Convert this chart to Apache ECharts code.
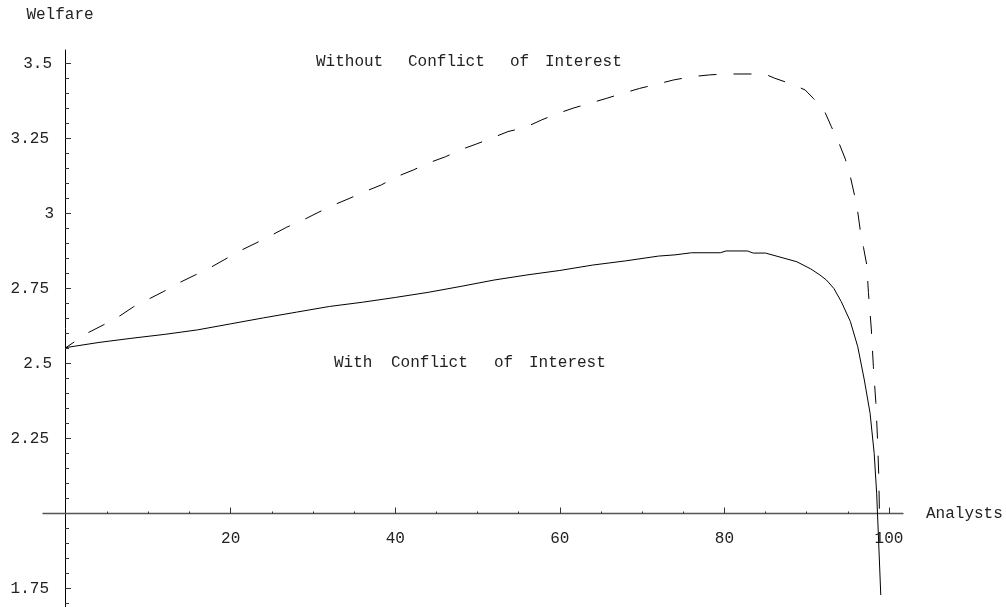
<!DOCTYPE html>
<html>
<head>
<meta charset="utf-8">
<title>Welfare vs Analysts</title>
<script src="https://cdn.jsdelivr.net/npm/echarts@6/dist/echarts.min.js"></script>
<style>
  html, body { margin: 0; padding: 0; background: #fff; }
  #chart { width: 1006px; height: 607px; }
</style>
</head>
<body>
<div id="chart"></div>
<script>
// With Conflict of Interest (solid line)
const withX = [0, 4, 8, 12, 16, 20, 24, 28, 32, 36, 40, 44, 48, 52, 56, 60, 64, 68, 72, 74, 76, 79.5, 80.2, 82.8, 83.5, 85, 88.8, 90.5, 91.6, 92.4, 93.3, 94.2, 95.3, 96.2, 97, 97.7, 98.2, 98.5, 98.7, 99.0];
const withY = [2.553, 2.57, 2.584, 2.597, 2.612, 2.632, 2.652, 2.671, 2.69, 2.704, 2.72, 2.737, 2.757, 2.778, 2.795, 2.81, 2.828, 2.842, 2.858, 2.862, 2.869, 2.869, 2.875, 2.875, 2.868, 2.868, 2.839, 2.815, 2.795, 2.778, 2.75, 2.706, 2.64, 2.556, 2.445, 2.334, 2.2, 2.067, 1.934, 1.728];

// Without Conflict of Interest (dashed line)
const withoutX = [0, 2.5, 4.5, 6.4, 8.2, 10, 11.8, 13.6, 15.7, 17.5, 19.3, 21.1, 23.2, 25, 26.8, 28.8, 30.6, 32.5, 34.5, 36.3, 38.3, 40.2, 42.2, 44.1, 46.1, 47.9, 49.9, 51.7, 53.7, 55.8, 57.8, 59.6, 61.6, 63.6, 65.7, 67.7, 69.7, 71.8, 73.8, 76, 78.2, 80, 84.9, 86.1, 88.2, 89.8, 90.8, 92.1, 93, 93.9, 94.7, 95.3, 95.8, 96.2, 96.5, 96.9, 97.3, 97.5, 97.85, 98.1, 98.4, 98.6, 98.75, 98.84, 98.86];
const withoutY = [2.553, 2.6, 2.628, 2.656, 2.689, 2.714, 2.739, 2.767, 2.795, 2.819, 2.847, 2.875, 2.903, 2.928, 2.954, 2.978, 3.003, 3.028, 3.051, 3.073, 3.095, 3.123, 3.145, 3.169, 3.189, 3.212, 3.232, 3.251, 3.273, 3.287, 3.312, 3.332, 3.351, 3.367, 3.384, 3.401, 3.417, 3.431, 3.445, 3.456, 3.462, 3.465, 3.465, 3.451, 3.431, 3.412, 3.384, 3.345, 3.289, 3.236, 3.181, 3.123, 3.062, 3.006, 2.945, 2.887, 2.828, 2.736, 2.615, 2.49, 2.37, 2.25, 2.13, 2.0, 1.985];

// ticks
const xMajorTicks = [20, 40, 60, 80, 100];
const xMinorTicks = [5, 10, 15, 25, 30, 35, 45, 50, 55, 65, 70, 75, 85, 90, 95];
const yMajorTicks = [1.75, 2.25, 2.5, 2.75, 3, 3.25, 3.5];
const yMinorTicks = [1.7, 1.8, 1.85, 1.9, 1.95, 2.05, 2.1, 2.15, 2.2, 2.3, 2.35, 2.4, 2.45, 2.55, 2.6, 2.65, 2.7, 2.8, 2.85, 2.9, 2.95, 3.05, 3.1, 3.15, 3.2, 3.3, 3.35, 3.4, 3.45];

const xMin = -2.8, xMax = 101.7;
const yMin = 1.688, yMax = 3.545;

const FONT = '"Liberation Mono", "DejaVu Sans Mono", monospace';
const ink = '#222';

const zip = (xs, ys) => xs.map((x, i) => [x, ys[i]]);

const myChart = echarts.init(document.getElementById('chart'));

const option = {
  animation: false,
  backgroundColor: '#fff',
  grid: {
    left: 43,
    right: 103,
    top: 50,
    bottom: 0,
    containLabel: false,
    outerBoundsMode: 'none'
  },
  xAxis: [
    {
      type: 'value',
      position: 'bottom',
      min: xMin,
      max: xMax,
      offset: -93.5, // x axis crosses at Welfare = 2
      name: 'Analysts',
      nameLocation: 'end',
      nameGap: 23,
      nameTextStyle: { fontFamily: FONT, fontSize: 16, color: ink, verticalAlign: 'middle' },
      axisLine: { show: true, onZero: false, lineStyle: { color: '#555', width: 1.3 } },
      axisTick: { show: true, inside: true, length: 6, customValues: xMajorTicks, lineStyle: { color: '#333' } },
      axisLabel: { show: true, customValues: xMajorTicks, margin: 17, fontFamily: FONT, fontSize: 16, color: ink },
      splitLine: { show: false }
    },
    {
      type: 'value',
      position: 'bottom',
      min: xMin,
      max: xMax,
      offset: -93.5,
      axisLine: { show: false, onZero: false },
      axisTick: { show: true, inside: true, length: 2, customValues: xMinorTicks, lineStyle: { color: '#333' } },
      axisLabel: { show: false },
      splitLine: { show: false }
    }
  ],
  yAxis: [
    {
      type: 'value',
      position: 'left',
      min: yMin,
      max: yMax,
      offset: -22, // y axis at Analysts = 0
      name: 'Welfare',
      nameLocation: 'end',
      nameGap: 27,
      nameTextStyle: { fontFamily: FONT, fontSize: 16, color: ink, align: 'center', padding: [0, 10, 0, 0] },
      axisLine: { show: true, onZero: false, lineStyle: { color: '#000', width: 1 } },
      axisTick: { show: true, inside: true, length: 6, customValues: yMajorTicks, lineStyle: { color: '#333' } },
      axisLabel: {
        show: true,
        customValues: yMajorTicks,
        margin: 11,
        fontFamily: FONT,
        fontSize: 16,
        color: ink,
        formatter: function (v) {
          const s = String(v);
          return '{l' + s.length + '|' + s + '}';
        },
        rich: {
          l1: { fontFamily: FONT, fontSize: 16, color: ink, padding: [0, 0, 0, 0] },
          l3: { fontFamily: FONT, fontSize: 16, color: ink, padding: [0, 2, 0, 0] },
          l4: { fontFamily: FONT, fontSize: 16, color: ink, padding: [0, 5, 0, 0] }
        }
      },
      splitLine: { show: false }
    },
    {
      type: 'value',
      position: 'left',
      min: yMin,
      max: yMax,
      offset: -22,
      axisLine: { show: false, onZero: false },
      axisTick: { show: true, inside: true, length: 4, customValues: yMinorTicks, lineStyle: { color: '#333' } },
      axisLabel: { show: false },
      splitLine: { show: false }
    }
  ],
  series: [
    {
      name: 'With Conflict of Interest',
      type: 'line',
      data: zip(withX, withY),
      showSymbol: false,
      symbol: 'none',
      lineStyle: { color: '#000', width: 1 },
      z: 3
    },
    {
      name: 'Without Conflict of Interest',
      type: 'line',
      data: zip(withoutX, withoutY),
      showSymbol: false,
      symbol: 'none',
      lineStyle: { color: '#000', width: 1, type: [18, 17], dashOffset: 8 },
      z: 3
    }
  ],
  graphic: [
    // Without Conflict of Interest
    { type: 'text', left: 316, top: 54, style: { text: 'Without', font: '16px ' + FONT, fill: ink } },
    { type: 'text', left: 408, top: 54, style: { text: 'Conflict', font: '16px ' + FONT, fill: ink } },
    { type: 'text', left: 510, top: 54, style: { text: 'of', font: '16px ' + FONT, fill: ink } },
    { type: 'text', left: 545, top: 54, style: { text: 'Interest', font: '16px ' + FONT, fill: ink } },
    // With Conflict of Interest
    { type: 'text', left: 334, top: 355, style: { text: 'With', font: '16px ' + FONT, fill: ink } },
    { type: 'text', left: 391, top: 355, style: { text: 'Conflict', font: '16px ' + FONT, fill: ink } },
    { type: 'text', left: 494, top: 355, style: { text: 'of', font: '16px ' + FONT, fill: ink } },
    { type: 'text', left: 529, top: 355, style: { text: 'Interest', font: '16px ' + FONT, fill: ink } }
  ]
};

myChart.setOption(option);
</script>
</body>
</html>
